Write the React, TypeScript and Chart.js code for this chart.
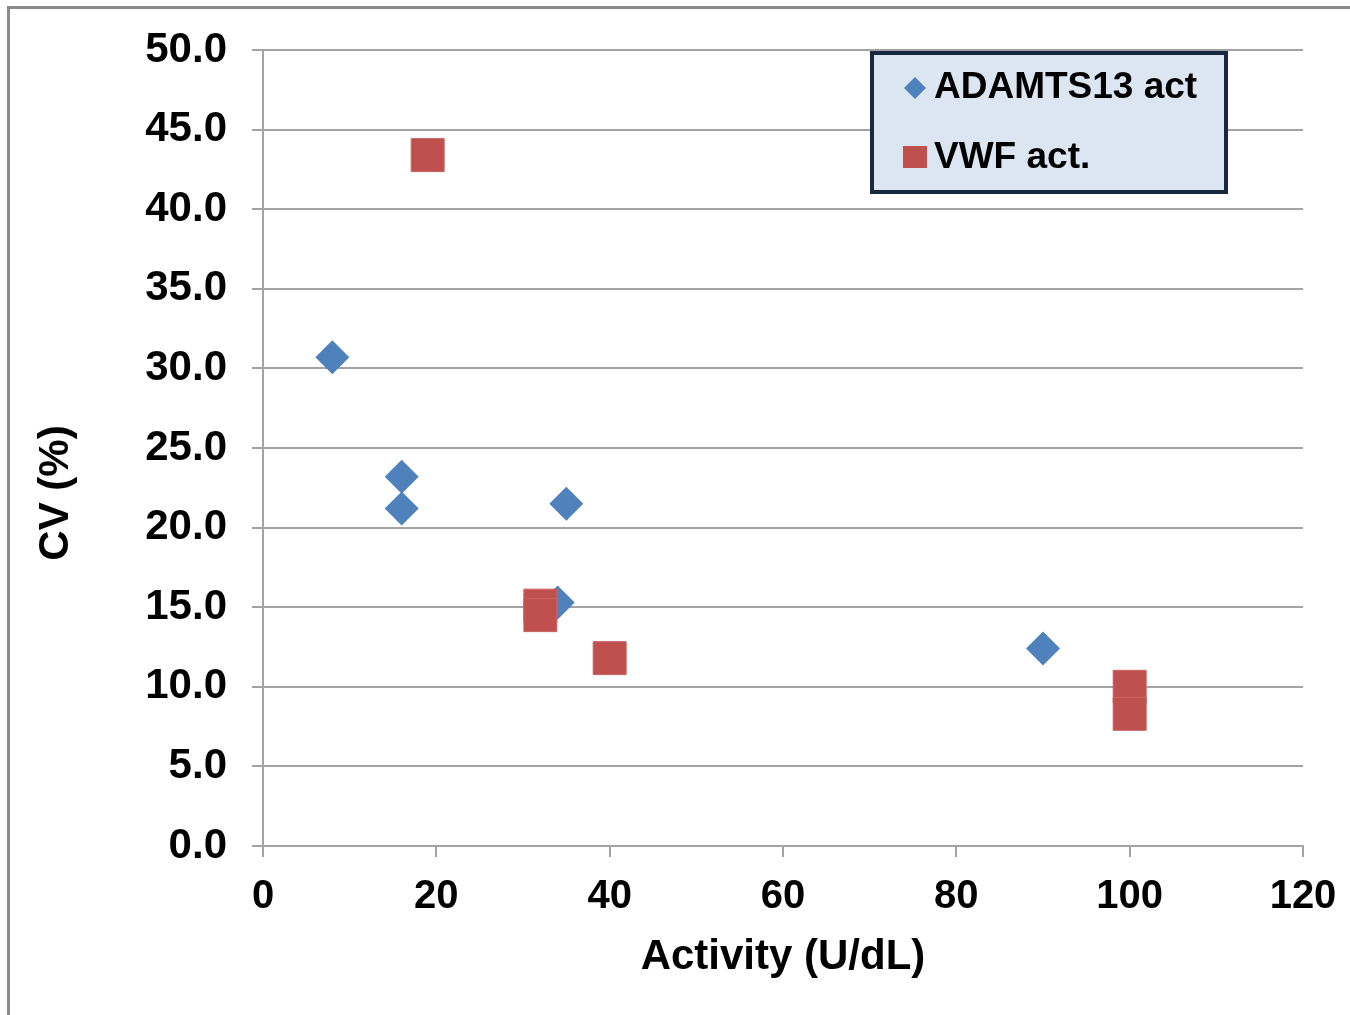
import { useEffect, useRef } from "react";
import { Chart, registerables } from "chart.js";

Chart.register(...registerables);

const seriesNames = ["ADAMTS13 act", "VWF act."];
const adamtsX = [8, 16, 16, 35, 34, 90];
const adamtsY = [30.7, 23.2, 21.2, 21.5, 15.3, 12.4];
const vwfX = [19, 32, 32, 40, 100, 100];
const vwfY = [43.4, 15.1, 14.5, 11.8, 10.0, 8.3];
const xTickValues = [0, 20, 40, 60, 80, 100, 120];
const yTickValues = [0, 5, 10, 15, 20, 25, 30, 35, 40, 45, 50];
const xTitle = "Activity (U/dL)";
const yTitle = "CV (%)";

const BLUE = "#4F81BD";
const RED = "#C0504D";
const GRID = "#a3a3a3";
const FONT = "'Liberation Sans', Arial, sans-serif";

const overlayPlugin = {
  id: "overlay",
  afterDraw(chart: any) {
    const ctx = chart.ctx as CanvasRenderingContext2D;
    ctx.save();
    // y axis title
    ctx.translate(56, 493);
    ctx.rotate(-Math.PI / 2);
    ctx.font = `bold 42px ${FONT}`;
    ctx.fillStyle = "#000";
    ctx.textAlign = "center";
    ctx.textBaseline = "middle";
    ctx.fillText(yTitle, 0, 0);
    ctx.restore();

    // legend box
    ctx.save();
    const bx = 872, by = 53, bw = 354, bh = 139;
    ctx.fillStyle = "#DCE6F2";
    ctx.fillRect(bx, by, bw, bh);
    ctx.strokeStyle = "#17283F";
    ctx.lineWidth = 4;
    ctx.strokeRect(bx, by, bw, bh);
    // diamond
    ctx.fillStyle = BLUE;
    ctx.beginPath();
    const dx = 915, dy = 88, dr = 11;
    ctx.moveTo(dx - dr, dy);
    ctx.lineTo(dx, dy - dr);
    ctx.lineTo(dx + dr, dy);
    ctx.lineTo(dx, dy + dr);
    ctx.closePath();
    ctx.fill();
    // square
    ctx.fillStyle = RED;
    ctx.fillRect(903, 146, 24, 22);
    ctx.fillStyle = "#000";
    ctx.font = `bold 37px ${FONT}`;
    ctx.textAlign = "left";
    ctx.textBaseline = "middle";
    ctx.fillText(seriesNames[0], 934, 88);
    ctx.fillText(seriesNames[1], 934, 158);
    ctx.restore();
  },
};

export default function App() {
  const canvasRef = useRef<HTMLCanvasElement | null>(null);

  useEffect(() => {
    if (!canvasRef.current) return;
    const chart = new Chart(canvasRef.current, {
      type: "scatter",
      data: {
        datasets: [
          {
            label: seriesNames[0],
            data: adamtsX.map((x, i) => ({ x, y: adamtsY[i] })),
            pointStyle: "rectRot",
            pointRadius: 17,
            pointHoverRadius: 17,
            backgroundColor: BLUE,
            borderColor: BLUE,
            borderWidth: 0,
            order: 1,
          },
          {
            label: seriesNames[1],
            data: vwfX.map((x, i) => ({ x, y: vwfY[i] })),
            pointStyle: "rect",
            pointRadius: 23.3,
            pointHoverRadius: 23.3,
            backgroundColor: RED,
            borderColor: "#c9625f",
            borderWidth: 1,
            order: 0,
          },
        ],
      },
      options: {
        animation: false,
        responsive: false,
        events: [],
        layout: { padding: { left: 0, top: 50, right: 47, bottom: 0 } },
        plugins: {
          legend: { display: false },
          tooltip: { enabled: false },
        },
        scales: {
          x: {
            type: "linear",
            min: 0,
            max: 120,
            afterBuildTicks: (scale: any) => {
              scale.ticks = xTickValues.map((v) => ({ value: v }));
            },
            afterFit: (scale: any) => {
              scale.height = 169;
              scale.paddingLeft = 0;
              scale.paddingRight = 0;
            },
            ticks: {
              color: "#000",
              font: { family: FONT, size: 40, weight: "bold" },
              padding: 16,
              maxRotation: 0,
              autoSkip: false,
            },
            grid: {
              drawOnChartArea: false,
              drawTicks: true,
              tickLength: 11,
              color: GRID,
              lineWidth: 2,
            },
            border: { display: true, color: GRID, width: 2 },
            title: {
              display: true,
              text: xTitle,
              color: "#000",
              font: { family: FONT, size: 42, weight: "bold" },
              padding: { top: 0, bottom: 32 },
            },
          },
          y: {
            type: "linear",
            min: 0,
            max: 50,
            afterBuildTicks: (scale: any) => {
              scale.ticks = yTickValues.map((v) => ({ value: v }));
            },
            afterFit: (scale: any) => {
              scale.width = 263;
              scale.paddingTop = 0;
              scale.paddingBottom = 0;
            },
            ticks: {
              color: "#000",
              font: { family: FONT, size: 42, weight: "bold" },
              padding: 25,
              autoSkip: false,
              callback: (v: any) => Number(v).toFixed(1),
            },
            grid: {
              drawOnChartArea: true,
              drawTicks: true,
              tickLength: 11,
              color: GRID,
              lineWidth: 2,
            },
            border: { display: true, color: GRID, width: 2 },
          },
        },
      },
      plugins: [overlayPlugin],
    });
    return () => chart.destroy();
  }, []);

  return (
    <div
      style={{
        position: "fixed",
        left: 0,
        top: 0,
        width: 1350,
        height: 1015,
        overflow: "hidden",
        background: "#fff",
      }}
    >
      <div
        style={{
          position: "absolute",
          left: 7,
          top: 6,
          width: 1400,
          height: 1100,
          borderLeft: "3px solid #8a8a8a",
          borderTop: "3px solid #8a8a8a",
        }}
      />
      <canvas
        ref={canvasRef}
        width={1350}
        height={1015}
        style={{ position: "absolute", left: 0, top: 0, width: 1350, height: 1015 }}
      />
    </div>
  );
}
